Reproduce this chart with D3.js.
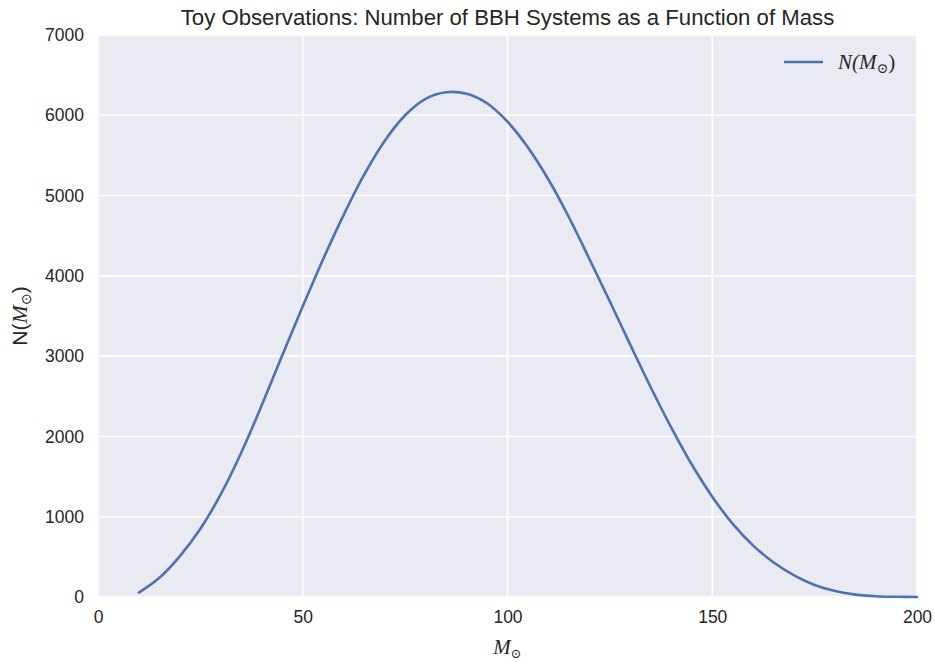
<!DOCTYPE html>
<html>
<head>
<meta charset="utf-8">
<script src="https://cdn.jsdelivr.net/npm/d3@7"></script>
<style>
  html, body { margin: 0; padding: 0; background: #ffffff; }
  svg { display: block; }
  text { font-family: "Liberation Sans", Arial, sans-serif; fill: #262626; }
  .math { font-family: "Liberation Serif", "DejaVu Serif", serif; font-style: italic; }
</style>
</head>
<body>
<svg id="chart" width="935" height="662"></svg>
<script>
// Solar-mass bins and the number of BBH systems in each
const masses = [10, 15, 20, 25, 30, 35, 40, 45, 50, 55, 60, 65, 70, 75, 80, 85,
  90, 95, 100, 105, 110, 115, 120, 125, 130, 135, 140, 145, 150, 155, 160, 165,
  170, 175, 180, 185, 190, 195, 200];
const counts = [55, 240, 510, 850, 1280, 1800, 2390, 3010, 3620, 4210, 4760, 5260,
  5680, 6000, 6205, 6287, 6268, 6150, 5920, 5600, 5200, 4730, 4210, 3680, 3140,
  2610, 2110, 1650, 1250, 910, 640, 430, 270, 150, 75, 30, 10, 3, 0];

const xTicks = [0, 50, 100, 150, 200];
const yTicks = [0, 1000, 2000, 3000, 4000, 5000, 6000, 7000];

const titleText = "Toy Observations: Number of BBH Systems as a Function of Mass";

const margin = { left: 98, right: 18, top: 35, bottom: 65 };
const W = 935, H = 662;
const iw = W - margin.left - margin.right;
const ih = H - margin.top - margin.bottom;

const svg = d3.select("#chart");
const g = svg.append("g").attr("transform", `translate(${margin.left},${margin.top})`);

const x = d3.scaleLinear().domain([0, 200]).range([0, iw]);
const y = d3.scaleLinear().domain([0, 7000]).range([ih, 0]);

// panel background
g.append("rect").attr("width", iw).attr("height", ih).attr("fill", "#EAEAF2");

// grid lines
g.append("g").selectAll("line").data(xTicks).join("line")
  .attr("x1", d => x(d)).attr("x2", d => x(d))
  .attr("y1", 0).attr("y2", ih)
  .attr("stroke", "#ffffff").attr("stroke-width", 1.6);
g.append("g").selectAll("line").data(yTicks).join("line")
  .attr("y1", d => y(d)).attr("y2", d => y(d))
  .attr("x1", 0).attr("x2", iw)
  .attr("stroke", "#ffffff").attr("stroke-width", 1.6);

// axes (labels only, darkgrid style)
const xAxis = g.append("g").attr("transform", `translate(0,${ih})`)
  .call(d3.axisBottom(x).tickValues(xTicks).tickSize(0).tickPadding(14).tickFormat(d3.format("d")));
const yAxis = g.append("g")
  .call(d3.axisLeft(y).tickValues(yTicks).tickSize(0).tickPadding(14).tickFormat(d3.format("d")));
[xAxis, yAxis].forEach(a => {
  a.select(".domain").remove();
  a.selectAll("text").attr("font-size", 17.5)
    .attr("font-family", "'Liberation Sans', Arial, sans-serif").attr("fill", "#262626");
});

// curve
const pts = masses.map((m, i) => [m, counts[i]]);
const line = d3.line().x(d => x(d[0])).y(d => y(d[1])).curve(d3.curveCatmullRom.alpha(0.5));
g.append("path").datum(pts).attr("d", line)
  .attr("fill", "none").attr("stroke", "#4C72B0").attr("stroke-width", 2.6)
  .attr("stroke-linecap", "round");

// title
svg.append("text").attr("x", margin.left + iw / 2).attr("y", 25)
  .attr("text-anchor", "middle").attr("font-size", 22.2).text(titleText);

// x-axis label: M_sun
const xl = svg.append("text").attr("x", margin.left + iw / 2).attr("y", 654)
  .attr("text-anchor", "middle").attr("class", "math").attr("font-size", 21);
xl.append("tspan").text("M");
xl.append("tspan").attr("font-size", 13).attr("font-style", "normal").attr("dy", 4).text("⊙");

// y-axis label: N(M_sun)
const yl = svg.append("text").attr("transform", "translate(27,316) rotate(-90)")
  .attr("text-anchor", "middle").attr("font-size", 21);
yl.append("tspan").text("N(");
yl.append("tspan").attr("class", "math").attr("font-size", 22).text("M");
yl.append("tspan").attr("font-size", 14).attr("dy", 4).text("⊙");
yl.append("tspan").attr("dy", -4).text(")");

// legend
const lg = svg.append("g");
lg.append("line").attr("x1", 784).attr("x2", 823).attr("y1", 62).attr("y2", 62)
  .attr("stroke", "#4C72B0").attr("stroke-width", 2.6);
const lt = lg.append("text").attr("x", 838).attr("y", 69).attr("font-size", 21)
  .attr("class", "math");
lt.append("tspan").text("N(M");
lt.append("tspan").attr("font-size", 14).attr("font-style", "normal").attr("dy", 4).text("⊙");
lt.append("tspan").attr("dy", -4).attr("font-style", "normal").text(")");
</script>
</body>
</html>
